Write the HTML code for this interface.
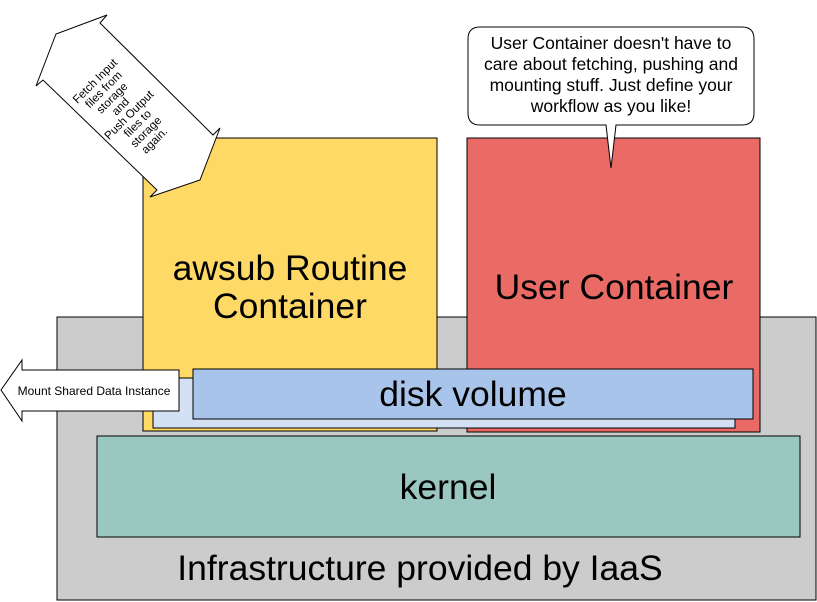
<!DOCTYPE html>
<html><head><style>
body{margin:0;width:817px;height:602px;background:#fff;position:relative;overflow:hidden;font-family:"Liberation Sans",Arial,sans-serif}
</style></head><body>
<svg width="817" height="602" style="position:absolute;left:0;top:0" font-family="Liberation Sans, Arial, sans-serif">
<rect x="57" y="317" width="759" height="283" fill="#cccccc" stroke="#000"/>
<rect x="143" y="138" width="294" height="293" fill="#ffd966" stroke="#000"/>
<rect x="467" y="138" width="293" height="294" fill="#ea6b66" stroke="#000"/>
<rect x="153" y="378" width="582" height="50" fill="#d4e1f5" stroke="#000"/>
<rect x="193" y="369" width="560" height="50" fill="#a9c4eb" stroke="#000"/>
<rect x="97" y="436" width="703" height="101" fill="#9ac7bf" stroke="#000"/>
<text x="290" y="280" font-size="35.5" text-anchor="middle">awsub Routine</text>
<text x="290" y="318" font-size="35.5" text-anchor="middle">Container</text>
<text x="614" y="299" font-size="35.5" text-anchor="middle">User Container</text>
<text x="473" y="406" font-size="35.5" text-anchor="middle">disk volume</text>
<text x="448" y="499" font-size="35.5" text-anchor="middle">kernel</text>
<text x="420" y="580" font-size="35.5" text-anchor="middle">Infrastructure provided by IaaS</text>
<polygon points="1,390 22,360 22,370 179,370 179,411 22,411 22,421" fill="#fff" stroke="#000"/>
<text x="94" y="395" font-size="12" text-anchor="middle">Mount Shared Data Instance</text>
<polygon points="107,15 100,23 213,135 220,128 200,180 150,197 157,190 43,80 36,86 56,34" fill="#fff" stroke="#000"/>
<g transform="translate(126,112) rotate(-45)" font-size="11.5" text-anchor="middle">
<text x="0" y="-40">Fetch Input</text>
<text x="0" y="-28">files from</text>
<text x="0" y="-16">storage</text>
<text x="0" y="-4">and</text>
<text x="0" y="8">Push Output</text>
<text x="0" y="20">files to</text>
<text x="0" y="32">storage</text>
<text x="0" y="44">again.</text>
</g>
<path d="M480,27 H742 Q754,27 754,39 V113 Q754,125 742,125 H616 L611,168 L606,125 H480 Q468,125 468,113 V39 Q468,27 480,27 Z" fill="#fff" stroke="#000"/>
<g font-size="17.5" text-anchor="middle">
<text x="611" y="49">User Container doesn't have to</text>
<text x="611" y="70">care about fetching, pushing and</text>
<text x="611" y="91">mounting stuff. Just define your</text>
<text x="611" y="112">workflow as you like!</text>
</g>
</svg>
</body></html>
